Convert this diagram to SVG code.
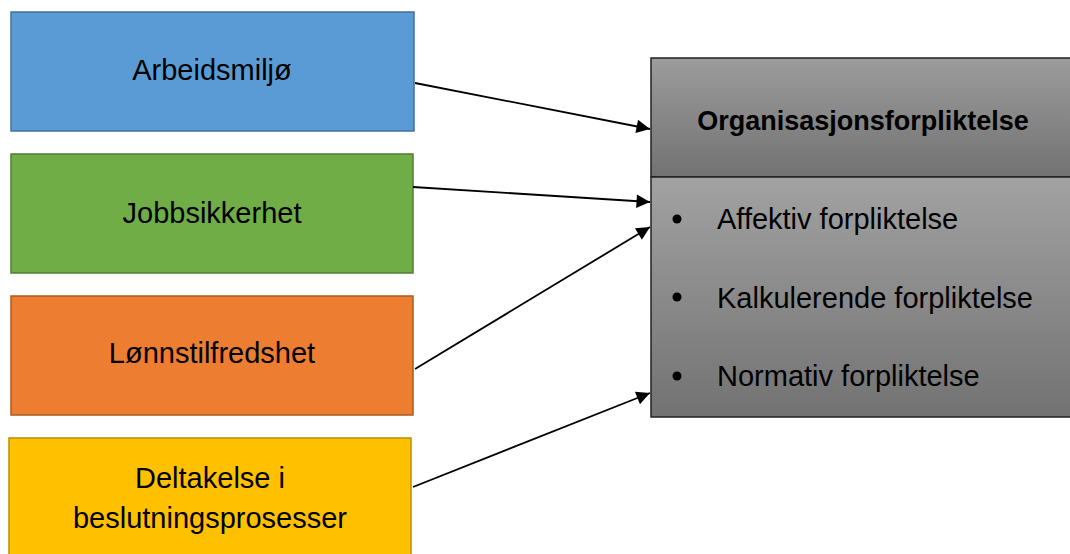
<svg xmlns="http://www.w3.org/2000/svg" width="1070" height="554" viewBox="0 0 1070 554">
<defs>
<style>
.t{font-family:"Liberation Sans",Arial,sans-serif;font-size:29px;fill:#000;text-anchor:middle}
.b{font-family:"Liberation Sans",Arial,sans-serif;font-size:29px;fill:#000}
.h{font-family:"Liberation Sans",Arial,sans-serif;font-size:27px;font-weight:bold;fill:#000;text-anchor:middle}
.c{stroke:#000;stroke-width:1.8;fill:none;marker-end:url(#ah)}
</style>
<marker id="ah" viewBox="0 0 10 10" refX="10" refY="5" markerWidth="8.5" markerHeight="7.5" markerUnits="strokeWidth" orient="auto">
<path d="M0,0 L10,5 L0,10 z" fill="#000"/>
</marker>
<linearGradient id="gh" x1="0" y1="0" x2="0" y2="1">
<stop offset="0" stop-color="#9c9c9c"/>
<stop offset="1" stop-color="#727272"/>
</linearGradient>
<linearGradient id="gb" x1="0" y1="0" x2="0" y2="1">
<stop offset="0" stop-color="#a2a2a2"/>
<stop offset="1" stop-color="#727272"/>
</linearGradient>
</defs>
<g id="arbeidsmiljo">
<rect x="11" y="12" width="403" height="119" fill="#5B9BD5" stroke="#41719C" stroke-width="1.5"/>
<text class="t" x="212" y="80">Arbeidsmiljø</text>
</g>
<g id="jobbsikkerhet">
<rect x="11" y="154" width="402" height="119" fill="#70AD47" stroke="#507E32" stroke-width="1.5"/>
<text class="t" x="212" y="223">Jobbsikkerhet</text>
</g>
<g id="lonnstilfredshet">
<rect x="11" y="296" width="402" height="119" fill="#ED7D31" stroke="#AE5A21" stroke-width="1.5"/>
<text class="t" x="212" y="363">Lønnstilfredshet</text>
</g>
<g id="deltakelse">
<rect x="9" y="438" width="402" height="130" fill="#FFC000" stroke="#BC8C00" stroke-width="1.5"/>
<text class="t" x="210" y="488">Deltakelse i</text>
<text class="t" x="210" y="528">beslutningsprosesser</text>
</g>
<g id="organisasjonsforpliktelse">
<rect x="651" y="58" width="430" height="119" fill="url(#gh)" stroke="#222" stroke-width="1.5"/>
<rect x="651" y="177" width="430" height="240" fill="url(#gb)" stroke="#222" stroke-width="1.5"/>
<text class="h" x="863" y="130">Organisasjonsforpliktelse</text>
<circle cx="677" cy="219" r="4.5" fill="#000"/>
<text class="b" x="717" y="229">Affektiv forpliktelse</text>
<circle cx="677" cy="297" r="4.5" fill="#000"/>
<text class="b" x="717" y="308">Kalkulerende forpliktelse</text>
<circle cx="677" cy="376" r="4.5" fill="#000"/>
<text class="b" x="717" y="386">Normativ forpliktelse</text>
</g>
<g id="connectors">
<line class="c" x1="415" y1="83" x2="650" y2="129"/>
<line class="c" x1="413" y1="187" x2="650" y2="202"/>
<line class="c" x1="415" y1="369" x2="650" y2="227"/>
<line class="c" x1="413" y1="487" x2="650" y2="393"/>
</g>
</svg>
